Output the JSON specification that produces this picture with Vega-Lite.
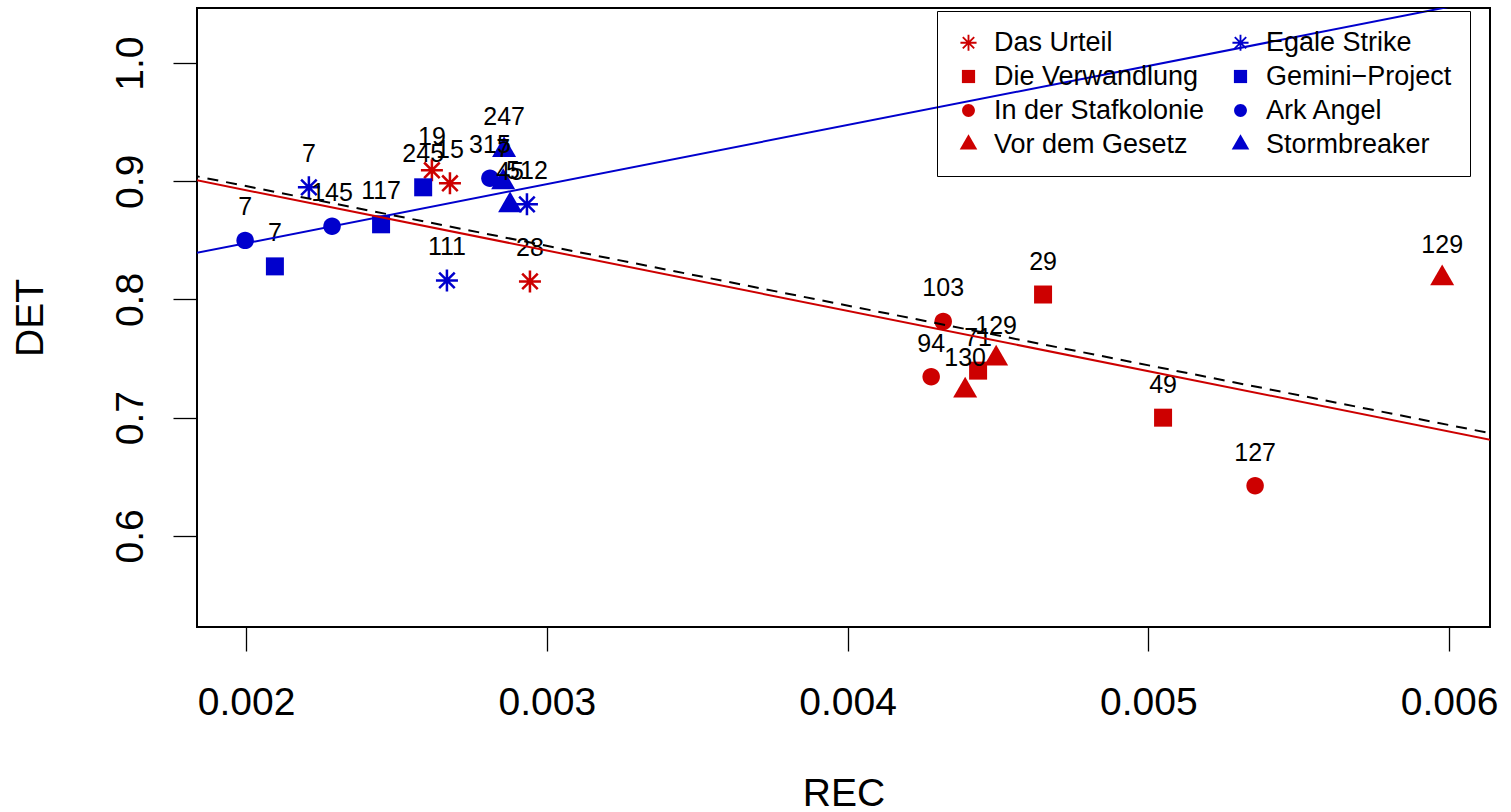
{
  "$schema": "https://vega.github.io/schema/vega-lite/v6.json",
  "width": 1293,
  "height": 619,
  "autosize": {"type": "none"},
  "padding": {"left": 197, "top": 8, "right": 21, "bottom": 185},
  "background": "white",
  "config": {
    "view": {"stroke": "black", "strokeWidth": 2},
    "font": "Liberation Sans",
    "axis": {
      "labelFont": "Liberation Sans", "labelFontSize": 39, "labelColor": "black",
      "titleFont": "Liberation Sans", "titleFontSize": 39, "titleFontWeight": "normal", "titleColor": "black",
      "tickColor": "black", "tickSize": 24, "tickWidth": 1.3, "domain": false, "grid": false
    },
    "legend": {
      "labelFont": "Liberation Sans", "labelFontSize": 27, "labelColor": "black"
    }
  },
  "datasets": {
    "pts": [
      {"series": "Das Urteil", "REC": 0.002618, "DET": 0.9093, "label": "19"},
      {"series": "Das Urteil", "REC": 0.002678, "DET": 0.8983, "label": "15"},
      {"series": "Das Urteil", "REC": 0.002944, "DET": 0.8153, "label": "28"},
      {"series": "Die Verwandlung", "REC": 0.00465, "DET": 0.8042, "label": "29"},
      {"series": "Die Verwandlung", "REC": 0.004434, "DET": 0.7398, "label": "71"},
      {"series": "Die Verwandlung", "REC": 0.005049, "DET": 0.7, "label": "49"},
      {"series": "In der Stafkolonie", "REC": 0.004318, "DET": 0.7814, "label": "103"},
      {"series": "In der Stafkolonie", "REC": 0.004278, "DET": 0.7347, "label": "94"},
      {"series": "In der Stafkolonie", "REC": 0.005355, "DET": 0.6424, "label": "127"},
      {"series": "Vor dem Gesetz", "REC": 0.004391, "DET": 0.7229, "label": "130"},
      {"series": "Vor dem Gesetz", "REC": 0.004494, "DET": 0.75, "label": "129"},
      {"series": "Vor dem Gesetz", "REC": 0.005977, "DET": 0.8178, "label": "129"},
      {"series": "Egale Strike", "REC": 0.002209, "DET": 0.8949, "label": "7"},
      {"series": "Egale Strike", "REC": 0.002668, "DET": 0.8161, "label": "111"},
      {"series": "Egale Strike", "REC": 0.002934, "DET": 0.8805, "label": "512"},
      {"series": "Gemini−Project", "REC": 0.002096, "DET": 0.828, "label": "7"},
      {"series": "Gemini−Project", "REC": 0.002449, "DET": 0.8636, "label": "117"},
      {"series": "Gemini−Project", "REC": 0.002589, "DET": 0.8949, "label": "245"},
      {"series": "Ark Angel", "REC": 0.001997, "DET": 0.85, "label": "7"},
      {"series": "Ark Angel", "REC": 0.002286, "DET": 0.8619, "label": "145"},
      {"series": "Ark Angel", "REC": 0.002811, "DET": 0.9025, "label": "315"},
      {"series": "Stormbreaker", "REC": 0.002858, "DET": 0.9263, "label": "247"},
      {"series": "Stormbreaker", "REC": 0.002855, "DET": 0.8992, "label": "7"},
      {"series": "Stormbreaker", "REC": 0.002878, "DET": 0.8797, "label": "45"}
    ],
    "blueline": [{"REC": 0.0015, "DET": 0.8226}, {"REC": 0.0065, "DET": 1.0726}],
    "redline": [{"REC": 0.0015, "DET": 0.918}, {"REC": 0.0065, "DET": 0.6628}],
    "fitline": [{"REC": 0.0015, "DET": 0.9212}, {"REC": 0.0065, "DET": 0.6685}]
  },
  "layer": [
    {
      "data": {"name": "pts"},
      "mark": {"type": "point", "filled": true, "opacity": 1, "size": 484},
      "encoding": {
        "x": {"field": "REC", "type": "quantitative", "scale": {"domain": [0.001837, 0.006136], "nice": false, "zero": false},
          "axis": {"title": "REC", "values": [0.002, 0.003, 0.004, 0.005, 0.006], "format": ".3f", "labelPadding": 32, "titlePadding": 52}},
        "y": {"field": "DET", "type": "quantitative", "scale": {"domain": [0.5229, 1.0466], "nice": false, "zero": false},
          "axis": {"title": "DET", "values": [0.6, 0.7, 0.8, 0.9, 1.0], "format": ".1f", "labelAngle": -90, "labelAlign": "center", "labelBaseline": "bottom", "labelPadding": 23, "titlePadding": 61}},
        "color": {"field": "series", "type": "nominal",
          "scale": {"domain": ["Das Urteil", "Die Verwandlung", "In der Stafkolonie", "Vor dem Gesetz", "Egale Strike", "Gemini−Project", "Ark Angel", "Stormbreaker"],
            "range": ["#CD0000", "#CD0000", "#CD0000", "#CD0000", "#0000CD", "#0000CD", "#0000CD", "#0000CD"]},
          "legend": {"title": null, "orient": "none", "legendX": 740, "legendY": 3, "columns": 2, "gridAlign": "each", "symbolSize": 260, "labelOffset": 12, "rowPadding": 6, "columnPadding": 22, "padding": 18, "strokeColor": "black", "symbolStrokeWidth": 0, "labelLimit": 400}},
        "shape": {"field": "series", "type": "nominal",
          "scale": {"domain": ["Das Urteil", "Die Verwandlung", "In der Stafkolonie", "Vor dem Gesetz", "Egale Strike", "Gemini−Project", "Ark Angel", "Stormbreaker"],
            "range": [
              "M-1,-0.115L1,-0.115L1,0.115L-1,0.115ZM-0.115,-1L0.115,-1L0.115,1L-0.115,1ZM-0.788,-0.626L-0.626,-0.788L0.788,0.626L0.626,0.788ZM-0.788,0.626L0.626,-0.788L0.788,-0.626L-0.626,0.788Z",
              "M-0.818,-0.818L0.818,-0.818L0.818,0.818L-0.818,0.818Z",
              "M-0.795,0A0.795,0.795 0 1,1 0.795,0A0.795,0.795 0 1,1 -0.795,0Z",
              "M0,-1.26L1.091,0.63L-1.091,0.63Z",
              "M-1,-0.115L1,-0.115L1,0.115L-1,0.115ZM-0.115,-1L0.115,-1L0.115,1L-0.115,1ZM-0.788,-0.626L-0.626,-0.788L0.788,0.626L0.626,0.788ZM-0.788,0.626L0.626,-0.788L0.788,-0.626L-0.626,0.788Z",
              "M-0.818,-0.818L0.818,-0.818L0.818,0.818L-0.818,0.818Z",
              "M-0.795,0A0.795,0.795 0 1,1 0.795,0A0.795,0.795 0 1,1 -0.795,0Z",
              "M0,-1.26L1.091,0.63L-1.091,0.63Z"
            ]}}
      }
    },
    {
      "data": {"name": "pts"},
      "mark": {"type": "text", "dy": -33, "baseline": "middle", "align": "center", "fontSize": 25, "font": "Liberation Sans", "color": "black"},
      "encoding": {
        "x": {"field": "REC", "type": "quantitative"},
        "y": {"field": "DET", "type": "quantitative"},
        "text": {"field": "label", "type": "nominal"}
      }
    },
    {
      "data": {"name": "blueline"},
      "mark": {"type": "line", "clip": true, "color": "#0000CD", "strokeWidth": 2},
      "encoding": {"x": {"field": "REC", "type": "quantitative"}, "y": {"field": "DET", "type": "quantitative"}}
    },
    {
      "data": {"name": "redline"},
      "mark": {"type": "line", "clip": true, "color": "#CD0000", "strokeWidth": 2},
      "encoding": {"x": {"field": "REC", "type": "quantitative"}, "y": {"field": "DET", "type": "quantitative"}}
    },
    {
      "data": {"name": "fitline"},
      "mark": {"type": "line", "clip": true, "color": "black", "strokeWidth": 2, "strokeDash": [11, 8]},
      "encoding": {"x": {"field": "REC", "type": "quantitative"}, "y": {"field": "DET", "type": "quantitative"}}
    }
  ]
}
